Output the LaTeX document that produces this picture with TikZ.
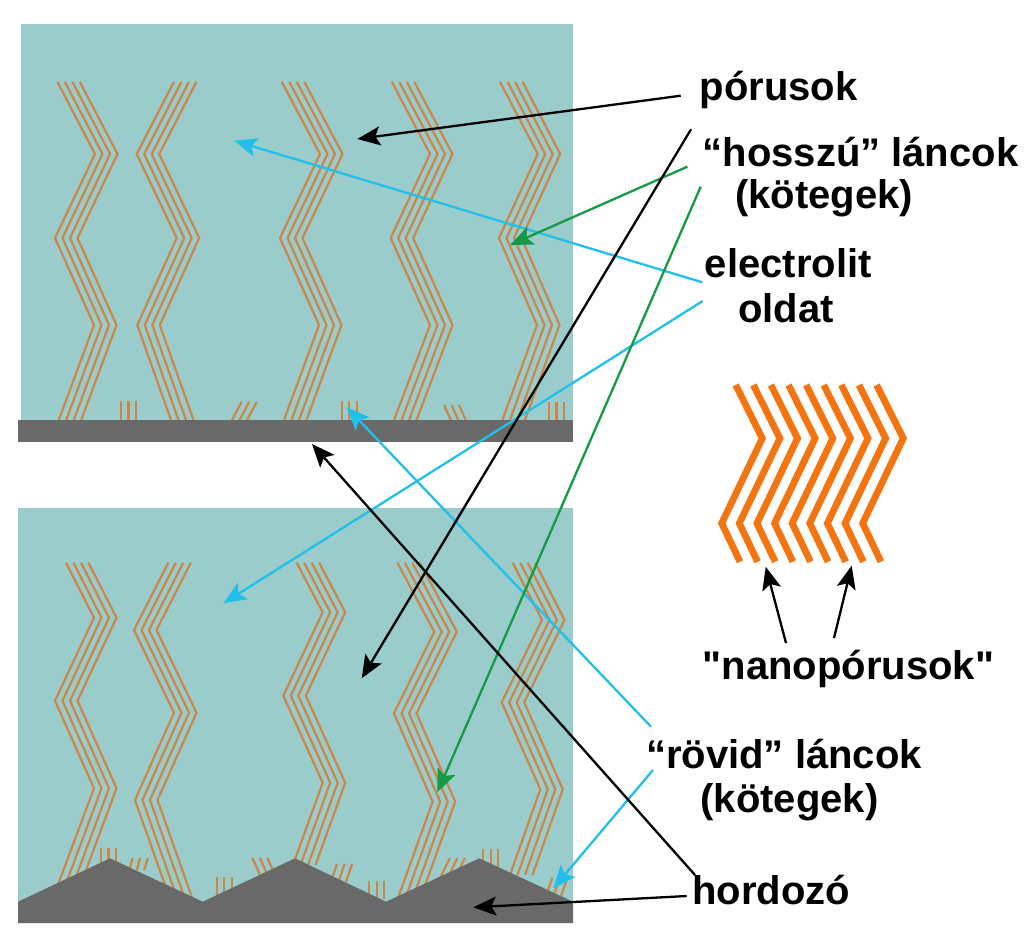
\documentclass[tikz,border=0pt]{standalone}
\usepackage{fontspec}
\setmainfont{Liberation Sans}
\newfontfamily\rawsans{Liberation Sans}
\usetikzlibrary{arrows.meta}
\definecolor{bgteal}{HTML}{9ACCCC}
\definecolor{substr}{HTML}{696969}
\definecolor{chainc}{HTML}{CC8748}
\definecolor{nanoc}{HTML}{F47410}
\definecolor{cyanar}{HTML}{22BFEA}
\definecolor{greenar}{HTML}{159A45}
\tikzset{
  chainline/.style={draw=chainc,line width=2.2pt,miter limit=10},
  nanoline/.style={draw=nanoc,line width=6.8pt,miter limit=10},
  arrowline/.style={line width=2.3pt,-{Stealth[length=23pt,width=19pt,inset=5pt]}},
  blackar/.style={arrowline,draw=black,fill=black},
  cyanarrow/.style={arrowline,draw=cyanar,fill=cyanar},
  greenarrow/.style={arrowline,draw=greenar,fill=greenar},
  lbl/.style={anchor=base,inner sep=0pt,font=\fontsize{40}{46}\selectfont\bfseries},
}
\newcommand\zigzag[1]{\foreach \dd in {0,7.5,15,22.5}{\draw[chainline,shift={(\dd,0)}] #1;}}
\begin{document}
\begin{tikzpicture}[x=1pt,y=-1pt]
\useasboundingbox (0,0) rectangle (1024,951);
\fill[white] (0,0) rectangle (1024,951);
% backgrounds
\fill[bgteal] (21,24) rectangle (573,420);
\fill[bgteal] (18,508) rectangle (573,905);
% top bundles
\zigzag{(57.3,81.7)--(95,154)--(55,238)--(94,325)--(58,422)}
\zigzag{(174,81.7)--(136.7,154)--(176.7,238)--(137.3,325)--(171.7,422)}
\zigzag{(281.7,81.7)--(320,154)--(280,238)--(319,325)--(283.3,422)}
\zigzag{(391.7,81.7)--(430,154)--(390.7,238)--(430,325)--(393.3,422)}
\zigzag{(500,81.7)--(537.7,154)--(499,238)--(537,325)--(501.7,422)}
% bottom bundles
\zigzag{(66,562.7)--(94,617.7)--(55,700.7)--(94,788.3)--(58.3,884)}
\zigzag{(168.3,562.7)--(134,630)--(174,712.7)--(135,800)--(169.3,897)}
\zigzag{(296.7,562.7)--(322.7,612.3)--(283.3,695.7)--(322.7,782.7)--(293,865)}
\zigzag{(397.3,562.7)--(434.3,631.7)--(394,713.3)--(432.7,801.7)--(398.3,897)}
\zigzag{(512.7,562.7)--(542,620)--(501.7,702.3)--(540.3,789.3)--(510,875)}
% short chains
\foreach \xa/\ya/\xb/\yb in {
  121/400.7/121/422,
  241.7/401.7/231/422,
  341.7/400.7/341.7/422,
  444/405/451.7/422,
  549/402/549/422,
  101/848.3/101/868,
  132.7/858/129.3/870,
  216.7/877.3/216.7/899,
  252.3/857.7/260/875,
  337/864/331/882,
  369.3/880.7/369.3/899,
  450/858/440/878,
  483.3/849/483.3/868,
  552.3/878/545.7/897}{
  \foreach \dd in {0,7.5,15}{\draw[chainline,shift={(\dd,0)}] (\xa,\ya)--(\xb,\yb);}
}
% substrates
\fill[substr] (18,420) rectangle (573,441.5);
\fill[substr] (18,901.7)--(110,858.3)--(202.7,901.7)--(295,858.3)--(386,901.7)--(479.3,858.3)--(573,901.7)--(573,923)--(18,923)--cycle;
% nanopore sketch
\foreach \i in {0,...,8}{
  \draw[nanoline,shift={(17.62*\i,0)}] (735.7,385)--(762.3,438.3)--(721.7,523.3)--(740,561.7);
}
% labels
\node[lbl] (por) at (778.7,100.7) {pórusok};
\node[lbl] (hossz) at (860.5,166.5) {“hosszú” láncok};
\node[lbl] (kot1) at (824,208.5) {(kötegek)};
\node[lbl] (elec) at (788.3,277) {electrolit};
\node[lbl] (old) at (786,322) {oldat};
\node[lbl] (nano) at (848.5,679.5) {{\rawsans\bfseries"}nanopórusok{\rawsans\bfseries"}};
\node[lbl] (rov) at (784,768.5) {“rövid” láncok};
\node[lbl] (kot2) at (789.5,812) {(kötegek)};
\node[lbl] (hord) at (771,904) {hordozó};
% connector ends
\coordinate (a1s) at (680.7,95.7); \coordinate (a1e) at (357.3,139);
\coordinate (a2s) at (691,129.3);  \coordinate (a2e) at (361.7,678.3);
\coordinate (g1s) at (687.3,166.7);\coordinate (g1e) at (510,245);
\coordinate (g2s) at (700.7,186.7);\coordinate (g2e) at (437.3,792.3);
\coordinate (c1s) at (702.3,282.3);\coordinate (c1e) at (234.3,140.7);
\coordinate (c2s) at (702.7,301);  \coordinate (c2e) at (223.3,603.3);
\coordinate (c3s) at (651,726.7);  \coordinate (c3e) at (346.7,407.3);
\coordinate (c4s) at (653,770);    \coordinate (c4e) at (553.3,888.3);
\coordinate (b1s) at (695,875);    \coordinate (b1e) at (312,444);
\coordinate (b2s) at (686.7,896);  \coordinate (b2e) at (473.3,907.3);
\coordinate (n1s) at (786,643);    \coordinate (n1e) at (765.7,566.7);
\coordinate (n2s) at (834,638);    \coordinate (n2e) at (851.7,565.7);
% arrows
\draw[cyanarrow] (c1s)--(c1e);
\draw[cyanarrow] (c2s)--(c2e);
\draw[cyanarrow] (c3s)--(c3e);
\draw[cyanarrow] (c4s)--(c4e);
\draw[greenarrow] (g1s)--(g1e);
\draw[greenarrow] (g2s)--(g2e);
\draw[blackar] (a1s)--(a1e);
\draw[blackar] (a2s)--(a2e);
\draw[blackar] (b1s)--(b1e);
\draw[blackar] (b2s)--(b2e);
\draw[blackar] (n1s)--(n1e);
\draw[blackar] (n2s)--(n2e);
\end{tikzpicture}
\end{document}
